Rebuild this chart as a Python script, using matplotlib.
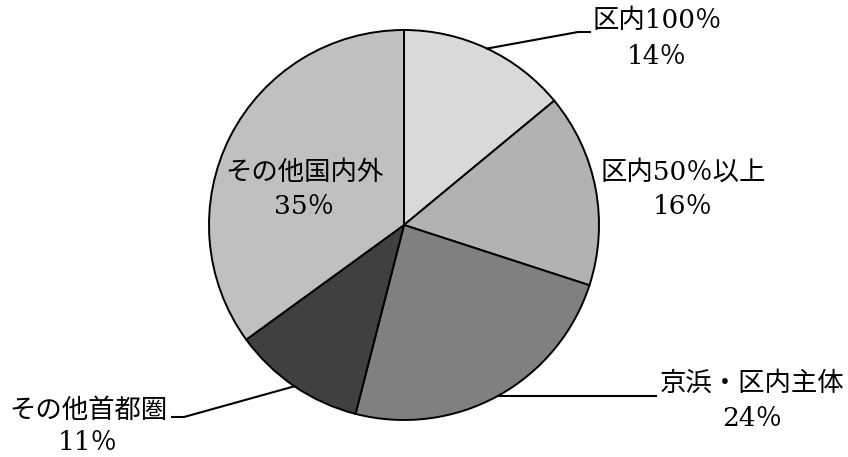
import numpy as np
import matplotlib.pyplot as plt

labels = ['区内100％', '区内50％以上', '京浜・区内主体', 'その他首都圏', 'その他国内外']
shares = [14, 16, 24, 11, 35]
colors = ['#d9d9d9', '#b2b2b2', '#808080', '#404040', '#c0c0c0']

W, H = 848, 457
cx, cy, r = 404, H - 225, 195

fig = plt.figure(figsize=(W / 100, H / 100), dpi=100)
ax = fig.add_axes([0, 0, 1, 1])

wedges, _ = ax.pie(shares, colors=colors, startangle=90, counterclock=False,
                   center=(cx, cy), radius=r, frame=True,
                   wedgeprops=dict(edgecolor='black', linewidth=1.4))
ax.set_xlim(0, W)
ax.set_ylim(0, H)
ax.set_aspect('equal')
ax.axis('off')

font = ['DejaVu Serif', 'Noto Sans CJK JP']
fs = 19


def edge_point(w):
    a = np.deg2rad((w.theta1 + w.theta2) / 2)
    return cx + r * np.cos(a), cy + r * np.sin(a)


def label(x, y1, y2, name, pct):
    ax.text(x, H - y1, name, ha='center', va='center', fontsize=fs, family=font)
    ax.text(x, H - y2, f'{pct}％', ha='center', va='center', fontsize=fs, family=font)


# leader lines (pixel positions measured from top)
lc = dict(color='black', lw=1.5)
x0, y0 = edge_point(wedges[0])
ax.plot([x0, 578, 590], [y0, H - 32, H - 32], **lc)
label(657, 20, 57, labels[0], shares[0])

label(683, 172, 206, labels[1], shares[1])

x2, y2 = edge_point(wedges[2])
ax.plot([x2, 656], [y2, y2], **lc)
label(752, 383, 419, labels[2], shares[2])

x3, y3 = edge_point(wedges[3])
ax.plot([x3, 184, 172], [y3, H - 417, H - 417], **lc)
label(88, 410, 442, labels[3], shares[3])

label(304, 172, 207, labels[4], shares[4])

fig.savefig('out.png', dpi=100)
